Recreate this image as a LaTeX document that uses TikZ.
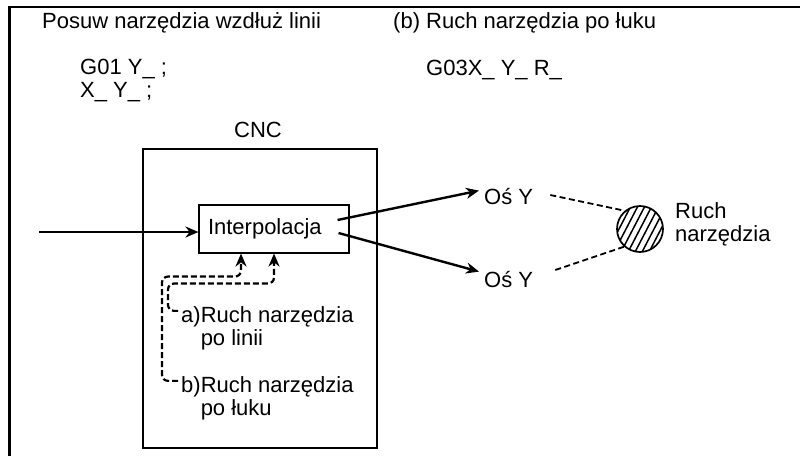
\documentclass[tikz,border=0pt]{standalone}
\usepackage{fontspec}
\setmainfont{Liberation Sans}
\usetikzlibrary{arrows.meta}

\tikzset{
  txt/.style={inner sep=0pt, anchor=base west},
  blk/.style={draw, line width=1.1pt},
  flow/.style={line width=2.4pt, -{Stealth[length=13pt,width=11pt]}},
  feed/.style={line width=2.2pt, dash pattern=on 6pt off 3pt, rounded corners=6pt,
    -{Stealth[length=13pt,width=11pt]}},
  link/.style={line width=1.8pt, dash pattern=on 6pt off 3.5pt}
}

\begin{document}
\begin{tikzpicture}[x=1pt, y=-1pt, font=\fontsize{22}{23}\selectfont]
  \useasboundingbox (0,0) rectangle (800,456);

  % open frame
  \draw[line width=2.2pt] (9.5,456) -- (9.5,7) -- (800,7);

  % programs (base = last line)
  \node[txt] (ttl1) at (42,28) {Posuw narzędzia wzdłuż linii};
  \node[txt] (ttl2) at (393,28) {(b) Ruch narzędzia po łuku};
  \node[txt, align=left] (prg1) at (80,97) {G01 Y\_ ;\\X\_ Y\_ ;};
  \node[txt] (prg2) at (426,75) {G03X\_ Y\_ R\_};

  % control unit
  \node[blk, minimum width=234pt, minimum height=299pt] (cnc) at (260,298.5) {};
  \node[txt, anchor=base] (cnclbl) at (258,137) {CNC};
  \node[blk, minimum width=150pt, minimum height=48pt, inner xsep=9pt,
    text width=132pt, align=left] (interp) at (274,229) {Interpolacja};

  \node[txt, align=left] (la) at (181,345) {a)Ruch narzędzia\\\phantom{a)}po linii};
  \node[txt, align=left] (lb) at (181,415) {b)Ruch narzędzia\\\phantom{b)}po łuku};

  % axes and tool
  \node[txt] (oy1) at (484,204) {Oś Y};
  \node[txt] (oy2) at (484,287) {Oś Y};
  \node[circle, draw, line width=1.7pt, minimum size=46pt, inner sep=0pt] (tool) at (640,229) {};
  \begin{scope}
    \clip (tool.center) circle (23);
    \foreach \k in {-42,-35,...,42}
      \draw[line width=1.5pt] ([shift={(\k-13,25)}]tool.center) -- ([shift={(\k+13,-25)}]tool.center);
  \end{scope}
  \node[txt, align=left] (toollbl) at (675,241) {Ruch\\narzędzia};

  % connections
  \coordinate (in) at (39,232);
  \draw[flow] (in) -- (in -| interp.west);
  \draw[flow] ([shift={(-12,-9)}]interp.east) -- ([shift={(-5,3)}]oy1.north west);
  \draw[flow] ([shift={(-11,4)}]interp.east) -- ([shift={(-5,1)}]oy2.north west);
  \draw[link] ([xshift=17pt,yshift=1pt]oy1.east) -- (tool.130);
  \draw[link] ([xshift=22pt,yshift=9pt]oy2.east) -- (tool.228);

  \draw[feed] ([shift={(-3,5)}]la.north west) -- ++(-10,0)
    |- ([yshift=-30pt]interp.south) -- (interp.south);
  \draw[feed] ([shift={(-3,5)}]lb.north west) -- ++(-16,0)
    |- ([xshift=-33pt,yshift=-23pt]interp.south) -- ([xshift=-33pt]interp.south);
\end{tikzpicture}
\end{document}
